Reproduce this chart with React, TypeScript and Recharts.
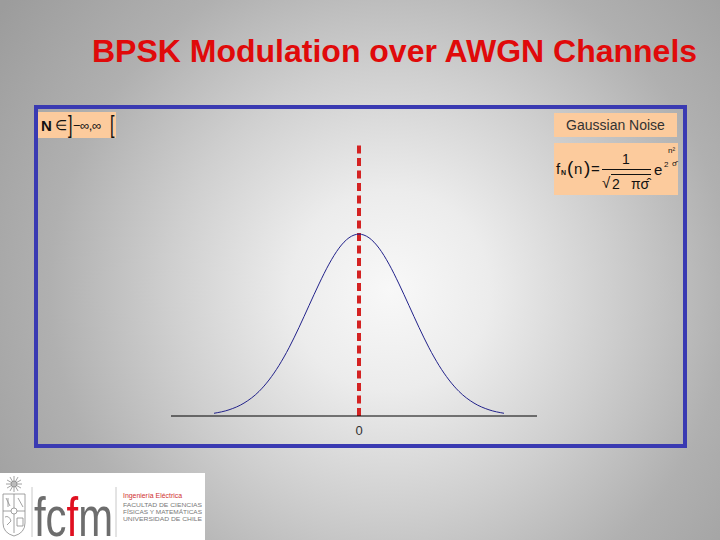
import React from 'react';
import { LineChart, Line, XAxis, YAxis, ReferenceLine } from 'recharts';

// Noise value n (in units of sigma) and density f_N(n) relative to its peak
const noiseValues = [-2.9, -2.6, -2.3, -2.0, -1.8, -1.6, -1.4, -1.2, -1.0, -0.8, -0.6, -0.4, -0.2, 0, 0.2, 0.4, 0.6, 0.8, 1.0, 1.2, 1.4, 1.6, 1.8, 2.0, 2.3, 2.6, 2.9];
const densityValues = [0.015, 0.034, 0.071, 0.135, 0.198, 0.278, 0.375, 0.487, 0.607, 0.726, 0.835, 0.923, 0.98, 1, 0.98, 0.923, 0.835, 0.726, 0.607, 0.487, 0.375, 0.278, 0.198, 0.135, 0.071, 0.034, 0.015];
const xTicks = [0];
const xDomain = [-3.76, 3.56];
const yDomain = [0, 1.49];

const titleText = 'BPSK Modulation over AWGN Channels';
const legendText = 'Gaussian Noise';

const data = noiseValues.map((n, i) => ({ n, f: densityValues[i] }));

const FONT = '"Liberation Sans", Arial, Helvetica, sans-serif';
const ORANGE = '#fccb9d';

function Formula() {
  const base: React.CSSProperties = { position: 'absolute', whiteSpace: 'nowrap', color: '#111', fontFamily: FONT, lineHeight: 1 };
  return (
    <div style={{ position: 'absolute', left: 554, top: 143, width: 124, height: 52, background: ORANGE }}>
      <span style={{ ...base, left: 2, top: 18, fontSize: 15 }}>f</span>
      <span style={{ ...base, left: 7, top: 26, fontSize: 7, fontWeight: 'bold' }}>N</span>
      <span style={{ ...base, left: 13, top: 15, fontSize: 19 }}>(</span>
      <span style={{ ...base, left: 20, top: 18, fontSize: 15 }}>n</span>
      <span style={{ ...base, left: 30, top: 15, fontSize: 19 }}>)</span>
      <span style={{ ...base, left: 37, top: 18, fontSize: 15 }}>=</span>
      <span style={{ ...base, left: 68, top: 9, fontSize: 14 }}>1</span>
      <div style={{ position: 'absolute', left: 48, top: 26, width: 49, height: 1, background: '#111' }} />
      <span style={{ ...base, left: 48, top: 32, fontSize: 15 }}>√</span>
      <div style={{ position: 'absolute', left: 57, top: 31, width: 40, height: 1, background: '#111' }} />
      <span style={{ ...base, left: 58, top: 34, fontSize: 14 }}>2</span>
      <span style={{ ...base, left: 77, top: 34, fontSize: 14 }}>πσ̂</span>
      <span style={{ ...base, left: 100, top: 19, fontSize: 15 }}>e</span>
      <span style={{ ...base, left: 114, top: 4, fontSize: 8 }}>n²</span>
      <span style={{ ...base, left: 110, top: 18, fontSize: 8 }}>2</span>
      <span style={{ ...base, left: 118, top: 17, fontSize: 8 }}>σ̂</span>
    </div>
  );
}

function Logo() {
  const grey = '#6d6d6d';
  const small = '#777777';
  return (
    <svg width={205} height={67} style={{ position: 'absolute', left: 0, top: 473 }}>
      <rect x={0} y={0} width={205} height={67} fill="#ffffff" />
      {/* crest */}
      <g stroke="#8a8a8a" strokeWidth={0.8} fill="none">
        {[0, 30, 60, 90, 120, 150, 180, 210, 240, 270, 300, 330].map((a) => (
          <line key={a} x1={14} y1={11} x2={14 + 8 * Math.cos((a * Math.PI) / 180)} y2={11 + 8 * Math.sin((a * Math.PI) / 180)} />
        ))}
        <circle cx={14} cy={11} r={3} fill="#bbbbbb" />
        <path d="M3 21 H25 V50 Q25 60 14 63 Q3 60 3 50 Z" />
        <line x1={3} y1={38} x2={25} y2={38} />
        <line x1={14} y1={21} x2={14} y2={60} />
        <circle cx={14} cy={38} r={3} fill="#ffffff" />
        <path d="M6 25 L10 33 M8 25 L8 34 M18 25 L23 34 M5 44 Q9 42 11 48 L7 52 M17 45 H23 V53 H17 Z" />
      </g>
      <line x1={32} y1={14} x2={32} y2={64} stroke="#c8c8c8" strokeWidth={1} />
      <line x1={116} y1={14} x2={116} y2={64} stroke="#c8c8c8" strokeWidth={1} />
      {/* fcfm */}
      <text x={34} y={63} fontFamily={FONT} fontSize={56} fill={grey} textLength={79} lengthAdjust="spacingAndGlyphs">
        fc<tspan fill="#e01020">f</tspan>m
      </text>
      <text x={123} y={25} fontFamily={FONT} fontSize={8} fill="#d03030" textLength={59} lengthAdjust="spacingAndGlyphs">
        Ingeniería Eléctrica
      </text>
      <text x={123} y={34} fontFamily={FONT} fontSize={6} fill={small} textLength={79} lengthAdjust="spacingAndGlyphs">
        FACULTAD DE CIENCIAS
      </text>
      <text x={123} y={41} fontFamily={FONT} fontSize={6} fill={small} textLength={79} lengthAdjust="spacingAndGlyphs">
        FÍSICAS Y MATEMÁTICAS
      </text>
      <text x={123} y={48} fontFamily={FONT} fontSize={6} fill={small} textLength={79} lengthAdjust="spacingAndGlyphs">
        UNIVERSIDAD DE CHILE
      </text>
    </svg>
  );
}

export default function App() {
  return (
    <div
      style={{
        position: 'absolute',
        left: 0,
        top: 0,
        width: 720,
        height: 540,
        overflow: 'hidden',
        fontFamily: FONT,
        background:
          'radial-gradient(circle at 390px 290px, #f8f8f8 0px, #ececec 100px, #cfcfcf 220px, #b0b0b0 340px, #9c9c9c 480px)',
      }}
    >
      <div
        style={{
          position: 'absolute',
          left: 92,
          top: 35,
          fontSize: 32,
          lineHeight: '32px',
          fontWeight: 'bold',
          color: '#e00a0a',
          whiteSpace: 'nowrap',
        }}
      >
        {titleText}
      </div>
      <div
        style={{
          position: 'absolute',
          left: 34,
          top: 105,
          width: 653,
          height: 343,
          boxSizing: 'border-box',
          border: '4px solid #3a3ab2',
        }}
      />
      <div style={{ position: 'absolute', left: 0, top: 0 }}>
        <LineChart width={720} height={540} data={data} margin={{ top: 145, right: 183, bottom: 94, left: 171 }}>
          <XAxis
            dataKey="n"
            type="number"
            domain={xDomain}
            ticks={xTicks}
            tickLine={false}
            tickMargin={4}
            axisLine={{ stroke: '#000000', strokeWidth: 1 }}
            tick={{ fill: '#333333', fontSize: 13, fontFamily: FONT }}
            height={30}
            allowDataOverflow
          />
          <YAxis hide domain={yDomain} />
          <ReferenceLine x={0} stroke="#d42222" strokeWidth={4} strokeDasharray="8 4.5" />
          <Line
            type="monotone"
            dataKey="f"
            stroke="#22228a"
            strokeWidth={1}
            dot={false}
            isAnimationActive={false}
          />
        </LineChart>
      </div>
      <div
        style={{
          position: 'absolute',
          left: 38,
          top: 112,
          width: 78,
          height: 26,
          background: ORANGE,
          color: '#111',
          whiteSpace: 'nowrap',
        }}
      >
        <span style={{ position: 'absolute', left: 3, top: 6, fontSize: 15, fontWeight: 'bold', lineHeight: 1 }}>N</span>
        <span style={{ position: 'absolute', left: 17, top: 6, fontSize: 14, lineHeight: 1 }}>∈</span>
        <span style={{ position: 'absolute', left: 29, top: 2, fontSize: 23, lineHeight: 1, transform: 'scaleX(0.7)' }}>]</span>
        <span style={{ position: 'absolute', left: 35, top: 7, fontSize: 13, lineHeight: 1, letterSpacing: -0.5 }}>−∞,∞</span>
        <span style={{ position: 'absolute', left: 71, top: 2, fontSize: 23, lineHeight: 1, transform: 'scaleX(0.7)' }}>[</span>
      </div>
      <div
        style={{
          position: 'absolute',
          left: 554,
          top: 113,
          width: 123,
          height: 24,
          background: ORANGE,
          color: '#333',
          fontSize: 14,
          display: 'flex',
          alignItems: 'center',
          justifyContent: 'center',
          whiteSpace: 'nowrap',
        }}
      >
        {legendText}
      </div>
      <Formula />
      <Logo />
    </div>
  );
}
